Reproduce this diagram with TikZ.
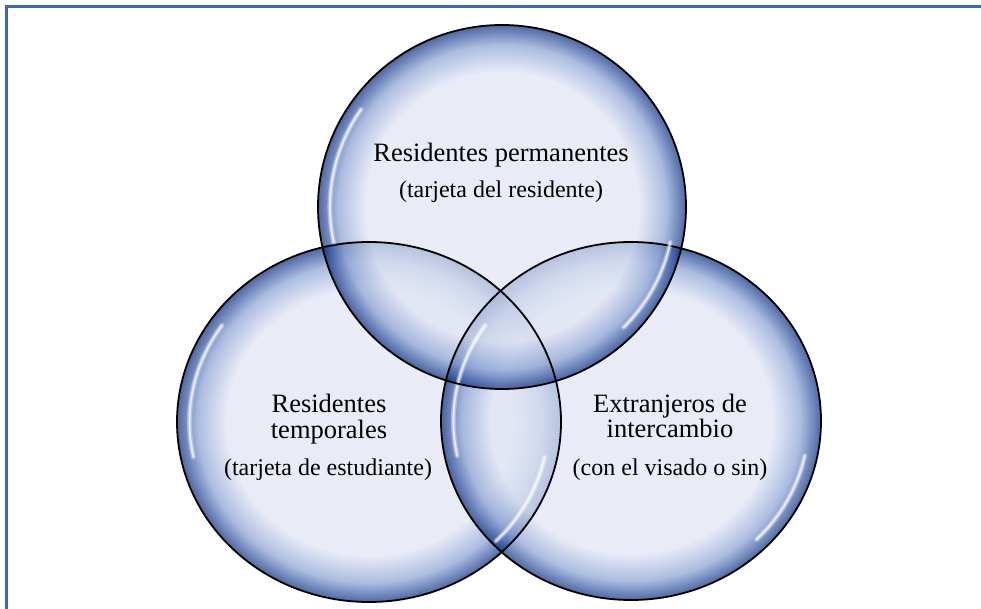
\documentclass[tikz,border=0pt]{standalone}
\usepackage{fontspec}
\setmainfont{Liberation Serif}
\usetikzlibrary{positioning}

\definecolor{bubin}{RGB}{224,229,244}
\definecolor{bubmid}{RGB}{140,162,212}
\definecolor{bubrim}{RGB}{38,72,150}
\definecolor{bubdark}{RGB}{20,45,110}
\definecolor{framecol}{RGB}{66,103,178}

\pgfdeclareradialshading{bubble}{\pgfpointorigin}{color(0bp)=(bubin); color(18.5bp)=(bubin); color(22.3bp)=(bubmid); color(24.4bp)=(bubrim); color(25bp)=(bubdark); color(50bp)=(bubdark)}

\begin{document}
\begin{tikzpicture}[x=1pt, y=1pt]
  \tikzset{
    bub/.style={shading=bubble, fill opacity=0.72},
    edge/.style={draw=black, line width=1.8pt},
    gloss/.style={draw=white, line width=5pt, line cap=round, opacity=0.35},
    glosscore/.style={draw=white, line width=2pt, line cap=round, opacity=0.7},
    lbl/.style={font=\fontsize{26.5}{28}\selectfont, anchor=base, inner sep=0pt},
    sublbl/.style={font=\fontsize{24}{26}\selectfont, anchor=base, inner sep=0pt}
  }
  \useasboundingbox (0,0) rectangle (981,608);
  \draw[framecol, line width=2.8pt] (6.5,-5) -- (6.5,601.5) -- (990,601.5);

  % the three sets
  \foreach \cx/\cy/\rx/\ry in {369/186/192/180, 631/187/190/179, 502/401/184/182} {
    \shade[bub] (\cx,\cy) ellipse [x radius=\rx, y radius=\ry];
  }
  \foreach \cx/\cy/\rx/\ry in {369/186/192/180, 631/187/190/179, 502/401/184/182} {
    \draw[edge] (\cx,\cy) ellipse [x radius=\rx, y radius=\ry];
    \pgfmathsetmacro\gx{0.935*\rx}
    \pgfmathsetmacro\gy{0.935*\ry}
    \foreach \s in {gloss, glosscore} {
      \draw[\s] (\cx,\cy) ++(145:{\gx} and {\gy}) arc[start angle=145, end angle=192, x radius=\gx, y radius=\gy];
      \draw[\s] (\cx,\cy) ++(-12:{\gx} and {\gy}) arc[start angle=-12, end angle=-45, x radius=\gx, y radius=\gy];
    }
  }

  \node[lbl] (perm) at (501,446) {Residentes permanentes};
  \node[sublbl] (permcard) at (501,410) {(tarjeta del residente)};

  \node[lbl] (temp1) at (329,196) {Residentes};
  \node[lbl] (temp2) at (329,170) {temporales};
  \node[sublbl] (tempcard) at (328,133) {(tarjeta de estudiante)};

  \node[lbl] (exch1) at (670,196) {Extranjeros de};
  \node[lbl] (exch2) at (670,171) {intercambio};
  \node[sublbl] (exchvisa) at (670,133) {(con el visado o sin)};
\end{tikzpicture}
\end{document}
